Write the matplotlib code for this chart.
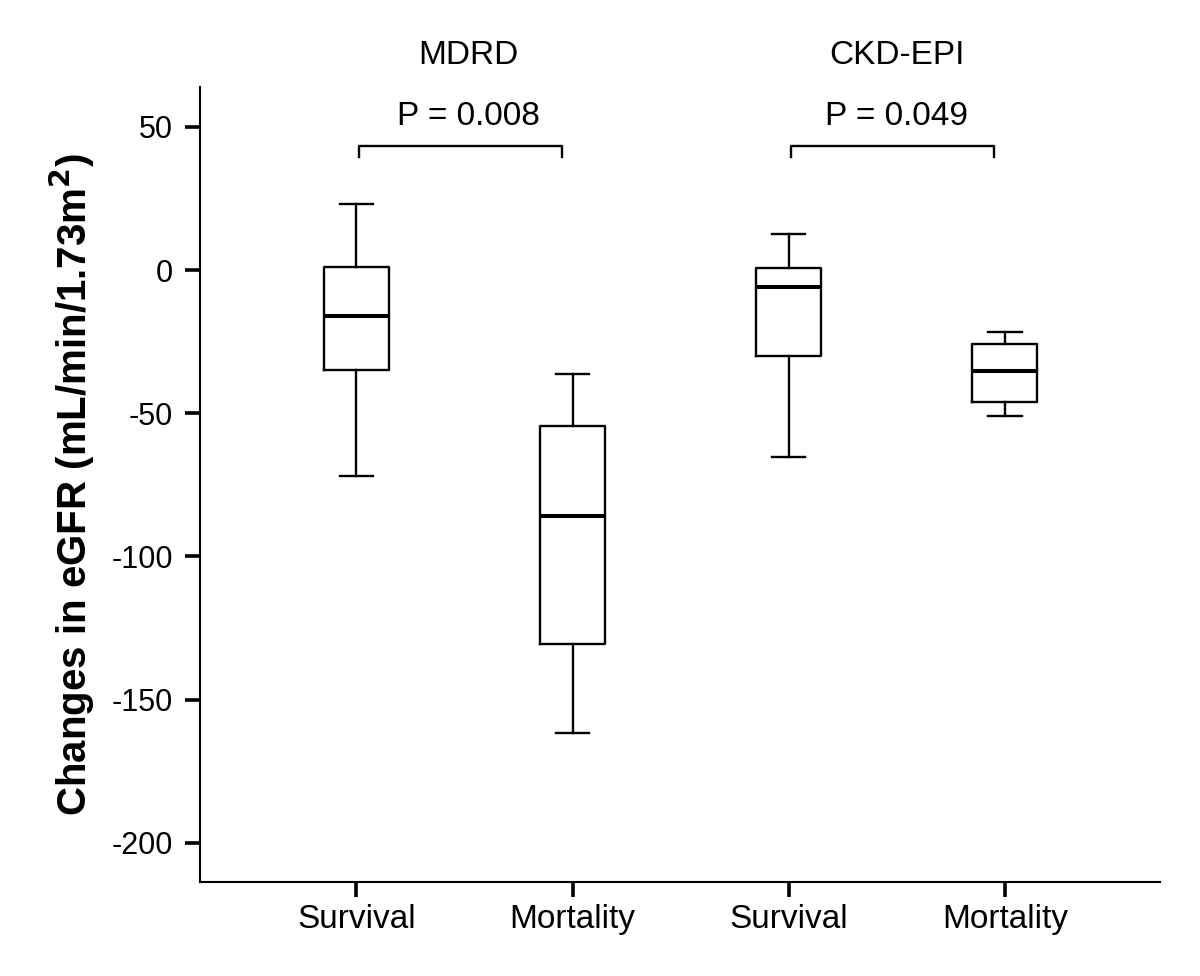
import matplotlib
matplotlib.use("Agg")
import matplotlib.pyplot as plt

# Data
categories = ["Survival", "Mortality", "Survival", "Mortality"]
groups = ["MDRD", "CKD-EPI"]
whislo = [-71.8, -161.6, -65.3, -51.1]
q1 = [-35.0, -130.5, -29.9, -46.0]
med = [-15.9, -85.9, -6.0, -35.4]
q3 = [1.2, -54.4, 0.7, -25.7]
whishi = [23.2, -36.3, 12.7, -21.6]
p_values = ["P = 0.008", "P = 0.049"]
yticks = [50, 0, -50, -100, -150, -200]

plt.rcParams['font.family'] = ['Liberation Sans', 'DejaVu Sans']

fig = plt.figure(figsize=(12, 9.76), dpi=100)
ax = fig.add_axes([0.167, 0.0963, 0.8, 0.8147])

positions = [1, 2, 3, 4]
stats = []
for i in range(4):
    stats.append(dict(med=med[i], q1=q1[i], q3=q3[i], whislo=whislo[i],
                      whishi=whishi[i], fliers=[], label=categories[i]))

ax.bxp(stats, positions=positions, widths=0.30, showfliers=False,
       boxprops=dict(color='black', linewidth=1.7),
       medianprops=dict(color='black', linewidth=2.9),
       whiskerprops=dict(color='black', linewidth=1.7),
       capprops=dict(color='black', linewidth=1.7),
       capwidths=0.155)

ax.set_xlim(0.278, 4.72)
ax.set_ylim(-213.7, 64.0)
ax.set_yticks(yticks)
ax.set_yticklabels([str(v) for v in yticks])
ax.set_xticks(positions)
ax.set_xticklabels(categories)
ax.tick_params(axis='both', width=2.6, length=10.8, color='black')
ax.tick_params(axis='x', labelsize=24, pad=5)
ax.tick_params(axis='y', labelsize=22, pad=9)
for s in ['top', 'right']:
    ax.spines[s].set_visible(False)
for s in ['left', 'bottom']:
    ax.spines[s].set_linewidth(1.5)

ax.set_ylabel("Changes in eGFR (mL/min/1.73m$^{\\mathbf{2}}$)", fontsize=29,
              fontweight='bold')
ax.yaxis.set_label_coords(-0.108, 0.5)

# brackets and annotations
br_y = 43.4
br_drop = 3.8
pairs = [(1.01, 1.95), (3.01, 3.95)]
text_x = [1.52, 3.50]
for (x0, x1), xc, p, g in zip(pairs, text_x, p_values, groups):
    ax.plot([x0, x0, x1, x1], [br_y - br_drop, br_y, br_y, br_y - br_drop],
            color='black', linewidth=1.7, clip_on=False)
    ax.text(xc, 53.5, p, ha='center', va='center', fontsize=24)
    ax.text(xc, 75.0, g, ha='center', va='center', fontsize=24, clip_on=False)

fig.savefig("out.png", dpi=100)
